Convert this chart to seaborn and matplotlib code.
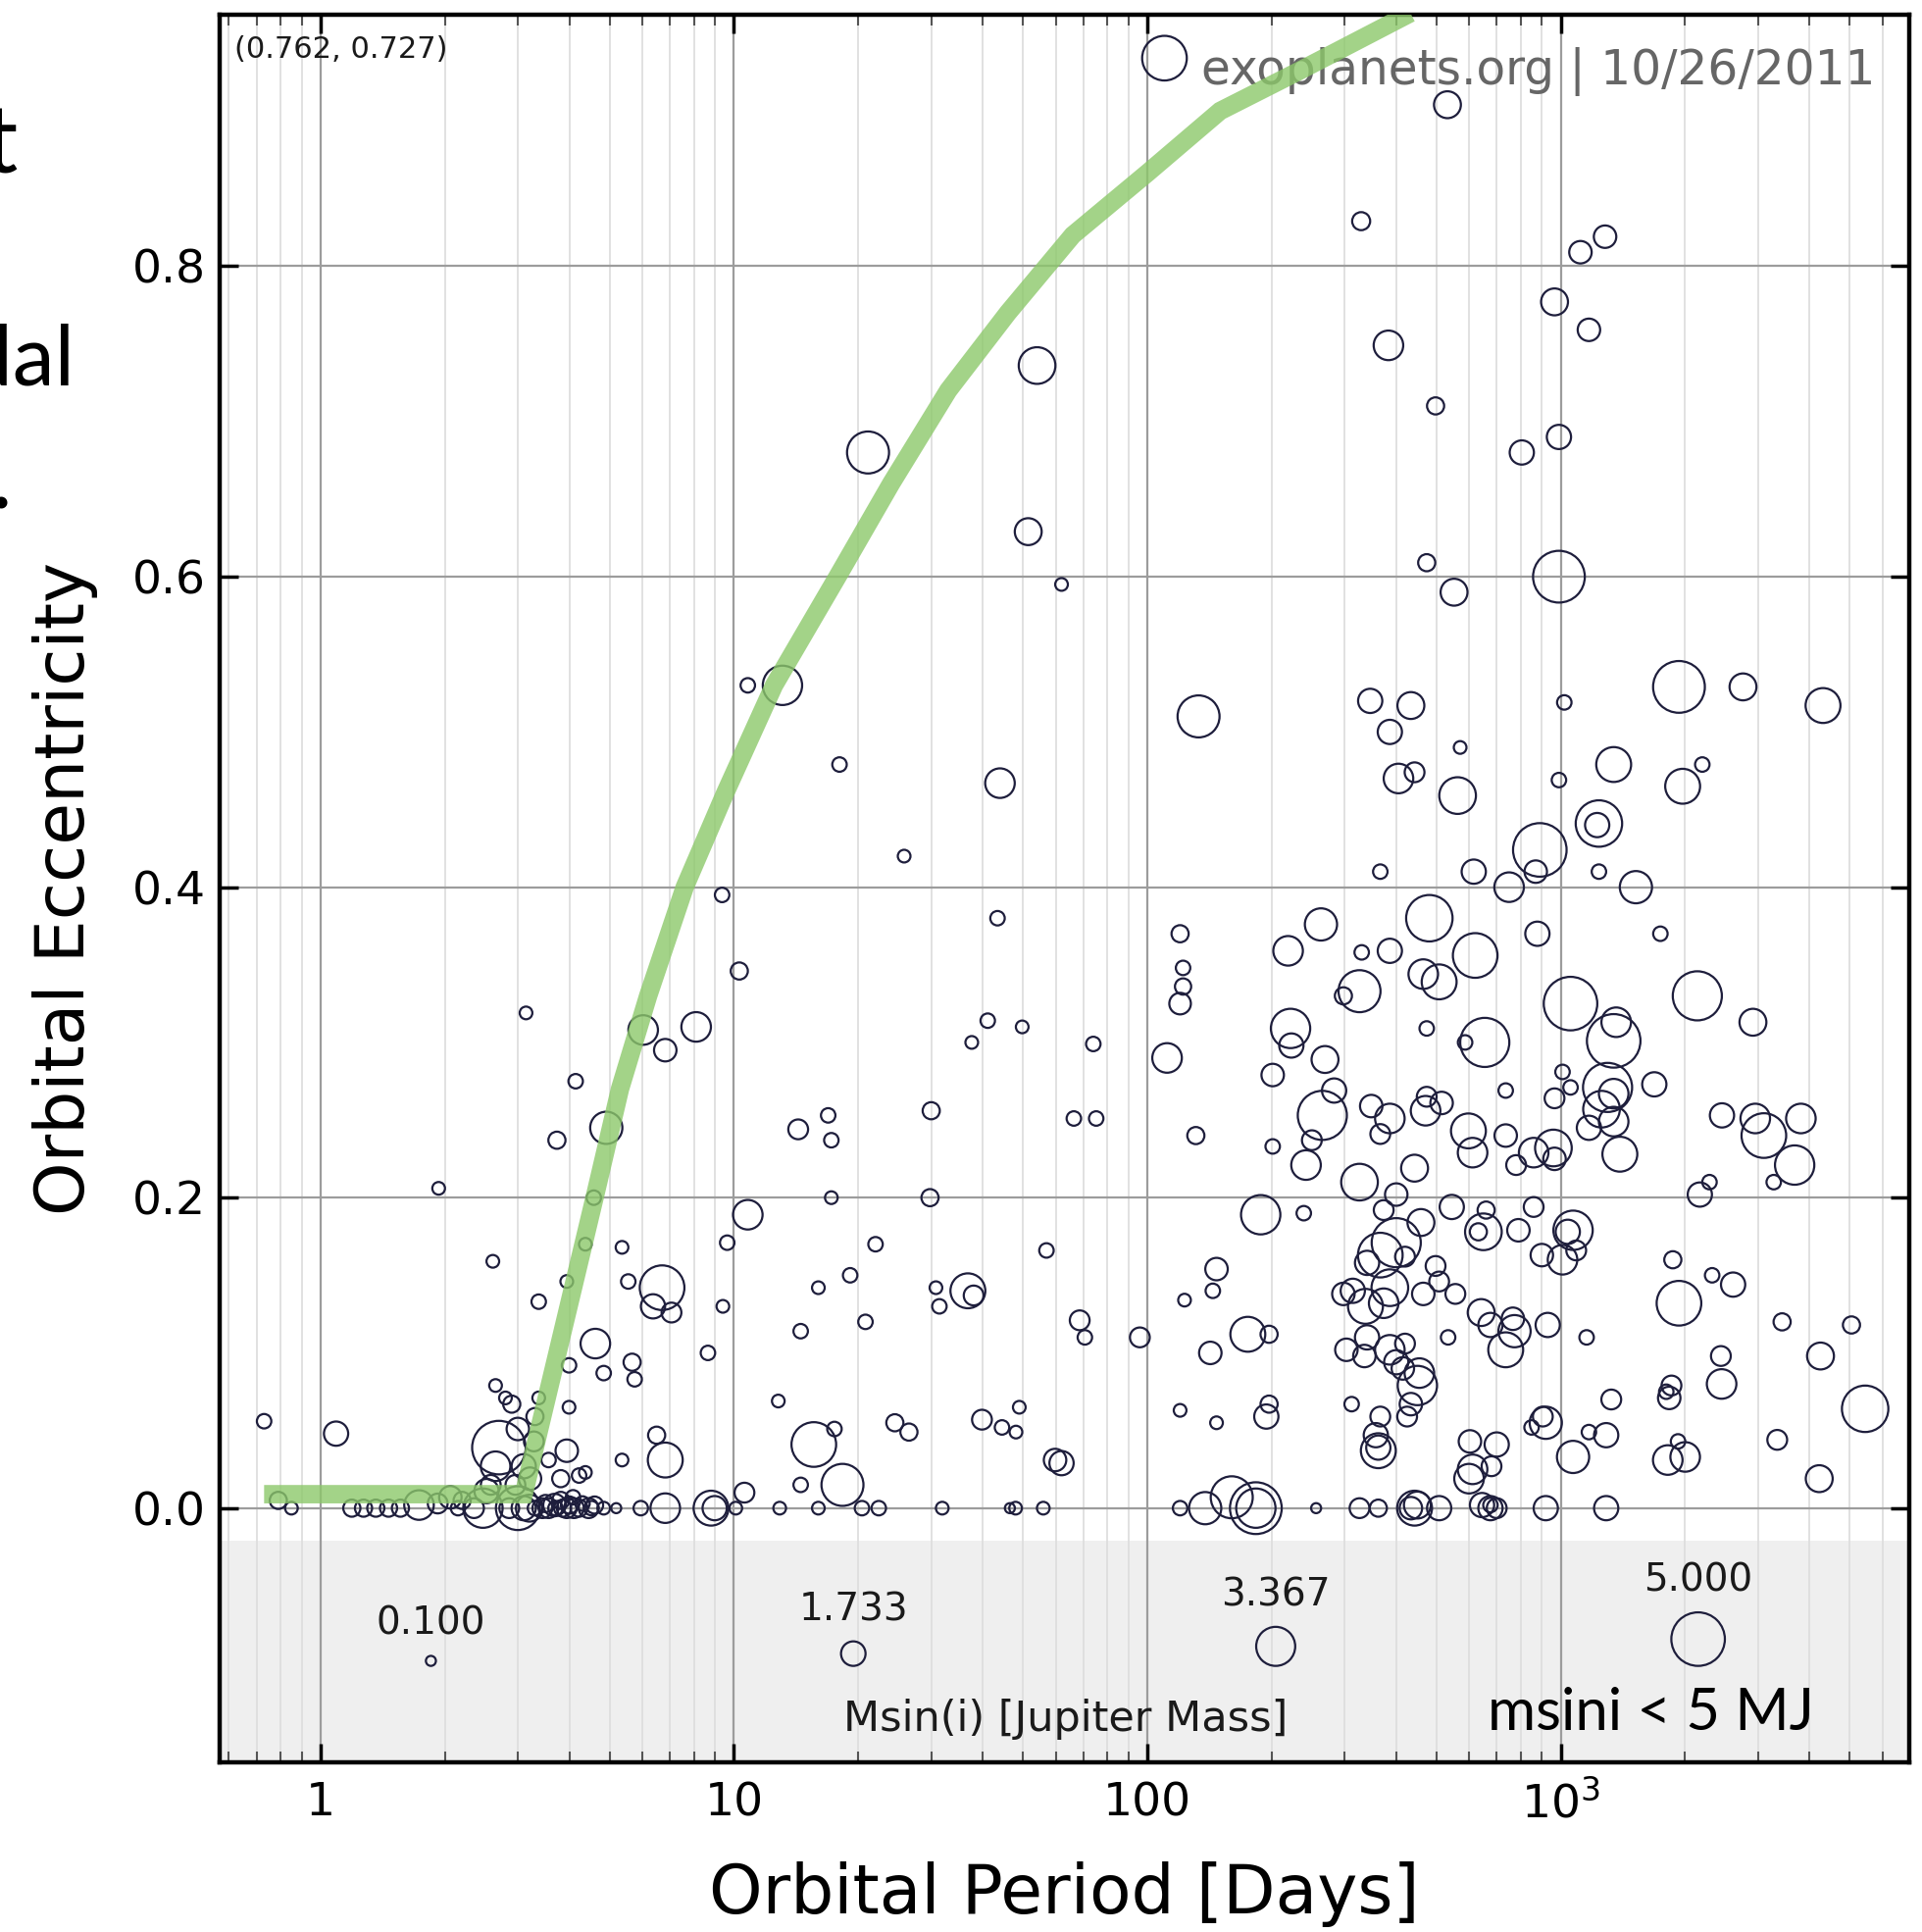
import matplotlib
matplotlib.use("Agg")
import matplotlib.pyplot as plt
from matplotlib.ticker import FixedLocator, FixedFormatter, LogLocator, NullFormatter
import seaborn as sns
import pandas as pd
import numpy as np

# orbital period [days], eccentricity, msini [M_Jup]
period = [
    # e > 0.55
    110, 532, 329, 1116, 1280, 966, 1170, 383, 54.1, 498,
    21.1, 805, 990, 51.5, 474, 62, 552, 990,
    # 0.44 - 0.55
    10.8, 13.1, 133, 346, 434, 386, 1020, 1932, 2760, 4310,
    18.0, 571, 405, 443, 563, 44, 1343, 990, 1972, 2200,
    1237, 1225,
    # 0.32 - 0.44
    25.8, 890, 750, 870, 616, 366, 1237, 1520, 9.36, 481,
    621, 263, 219, 120, 43.4, 330, 386, 465, 508, 878,
    1742, 122, 122, 120,
    # 0.22 - 0.35
    10.3, 326, 298, 1056, 2140, 2917, 3.14, 6.03, 8.10, 6.82,
    37.6, 41.1, 49.8, 74, 111.6, 222, 223, 474, 587, 655,
    1362, 1343, 269, 201, 283, 265, 348, 386, 474, 471,
    515, 736, 1010, 1056, 1298, 1255, 1343, 1684, 966, 1343,
    2455, 2955, 3100, 3810, 3680, 4.91, 3.73, 4.14, 14.3, 16.9,
    17.2, 30, 66.4, 75.2, 131, 201, 242, 250, 366, 598,
    612, 736, 860, 960, 966, 780, 1170, 1390,
    # 0.12 - 0.22
    1.93, 29.8, 10.8, 17.2, 4.58, 326, 400, 443, 188, 239,
    373, 459, 545, 632, 650, 660, 790, 860, 1071, 1040,
    900, 1010, 1090, 2170, 2290, 3275, 1867, 2324, 2612, 1932,
    400, 366, 340, 420, 498, 314, 298, 386, 373, 337,
    465, 508, 556, 147, 144, 123, 57, 36.8, 38, 22.0,
    19.1, 16.0, 9.63, 9.4, 6.7, 6.37, 7.06, 5.55, 5.36, 3.37,
    3.94, 2.61, 4.37,
    # 0.015 - 0.13
    4.62, 3.99, 4.84, 5.67, 5.75, 8.65, 14.5, 20.8, 30.8, 31.4,
    68.6, 70.6, 95.9, 142, 175, 197, 120, 147, 197, 194,
    312, 366, 425, 357, 362, 362, 303, 340, 335, 386,
    400, 415, 455, 450, 434, 420, 534, 642, 676, 766,
    773, 736, 930, 1155, 3432, 4250, 5050, 2440, 2450, 1853,
    1800, 1830, 1325, 1288, 1170, 905, 920, 850, 1071, 1815,
    1922, 2000, 3340, 4220, 5450, 603, 612, 600, 700, 680,
    # circular, long period
    676, 700, 645, 676, 508, 443, 450, 434, 362, 326,
    256, 183, 183, 160, 138, 120, 920, 1288,
    # hot jupiters
    0.73, 1.09, 0.79, 0.85, 1.19, 1.27, 1.36, 1.46, 1.56, 1.73,
    1.92, 2.06, 2.2, 2.47, 2.52, 2.70, 2.65, 2.58, 2.9, 2.8,
    2.65, 3.0, 3.1, 2.96, 3.21, 3.28, 3.3, 3.37, 3.1, 3.44,
    3.68, 3.94, 4.22, 4.52, 4.84, 2.86, 3.56, 3.81, 4.08, 3.81,
    4.22, 3.56, 3.94, 4.37, 3.99, 5.19, 5.36, 5.95, 6.82, 6.5,
    6.82, 8.8, 8.98, 10.6, 10.1, 12.8, 15.6, 17.5, 18.3, 14.5,
    12.9, 16.0, 20.4, 22.4, 24.5, 26.5, 31.9, 39.8, 44.5, 48.1,
    49.0, 46.5, 48, 56, 59.8, 62, 3.3, 3.5, 3.7, 4.0,
    4.3, 4.6, 4.1, 3.85, 4.45, 3.2, 2.35, 2.15, 3.0,
]

ecc = [
    0.934, 0.904, 0.829, 0.809, 0.819, 0.777, 0.759, 0.749, 0.736, 0.710,
    0.680, 0.680, 0.690, 0.629, 0.609, 0.595, 0.590, 0.600,
    0.530, 0.530, 0.510, 0.520, 0.517, 0.500, 0.519, 0.529, 0.529, 0.517,
    0.479, 0.490, 0.470, 0.474, 0.459, 0.467, 0.479, 0.469, 0.465, 0.479,
    0.441, 0.440,
    0.420, 0.424, 0.400, 0.410, 0.410, 0.410, 0.410, 0.400, 0.395, 0.380,
    0.356, 0.376, 0.359, 0.370, 0.380, 0.358, 0.359, 0.344, 0.339, 0.370,
    0.370, 0.348, 0.336, 0.325,
    0.346, 0.333, 0.330, 0.325, 0.330, 0.313, 0.319, 0.308, 0.310, 0.295,
    0.300, 0.314, 0.310, 0.299, 0.290, 0.309, 0.298, 0.309, 0.300, 0.300,
    0.313, 0.301, 0.289, 0.279, 0.269, 0.253, 0.259, 0.251, 0.265, 0.256,
    0.261, 0.269, 0.281, 0.271, 0.271, 0.257, 0.267, 0.273, 0.264, 0.249,
    0.253, 0.251, 0.240, 0.251, 0.221, 0.245, 0.237, 0.275, 0.244, 0.253,
    0.237, 0.256, 0.251, 0.251, 0.240, 0.233, 0.221, 0.237, 0.241, 0.243,
    0.229, 0.240, 0.229, 0.232, 0.225, 0.221, 0.245, 0.228,
    0.206, 0.200, 0.189, 0.200, 0.200, 0.210, 0.202, 0.219, 0.189, 0.190,
    0.192, 0.184, 0.194, 0.178, 0.178, 0.192, 0.179, 0.194, 0.179, 0.178,
    0.163, 0.160, 0.166, 0.202, 0.210, 0.210, 0.160, 0.150, 0.144, 0.132,
    0.171, 0.163, 0.158, 0.162, 0.156, 0.140, 0.138, 0.142, 0.132, 0.130,
    0.138, 0.146, 0.138, 0.154, 0.140, 0.134, 0.166, 0.140, 0.137, 0.170,
    0.150, 0.142, 0.171, 0.130, 0.142, 0.130, 0.126, 0.146, 0.168, 0.133,
    0.146, 0.159, 0.170,
    0.106, 0.092, 0.087, 0.094, 0.083, 0.100, 0.114, 0.120, 0.142, 0.130,
    0.121, 0.110, 0.110, 0.100, 0.112, 0.112, 0.063, 0.055, 0.067, 0.059,
    0.067, 0.059, 0.059, 0.047, 0.037, 0.039, 0.102, 0.110, 0.098, 0.102,
    0.094, 0.090, 0.087, 0.079, 0.067, 0.106, 0.110, 0.126, 0.118, 0.122,
    0.114, 0.102, 0.118, 0.110, 0.120, 0.098, 0.118, 0.098, 0.080, 0.079,
    0.075, 0.071, 0.070, 0.047, 0.049, 0.059, 0.055, 0.052, 0.033, 0.031,
    0.043, 0.033, 0.044, 0.019, 0.064, 0.043, 0.025, 0.019, 0.041, 0.027,
    0.0, 0.0, 0.002, 0.002, 0.0, 0.0, 0.002, 0.0, 0.0, 0.0,
    0.0, 0.0, 0.0, 0.007, 0.0, 0.0, 0.0, 0.0,
    0.056, 0.048, 0.005, 0.0, 0.0, 0.0, 0.0, 0.0, 0.0, 0.002,
    0.003, 0.007, 0.005, 0.0, 0.011, 0.039, 0.027, 0.015, 0.067, 0.071,
    0.079, 0.051, 0.027, 0.015, 0.019, 0.043, 0.059, 0.071, 0.0, 0.0,
    0.002, 0.0, 0.0, 0.0, 0.0, 0.0, 0.0, 0.005, 0.007, 0.019,
    0.021, 0.031, 0.037, 0.023, 0.065, 0.0, 0.031, 0.0, 0.0, 0.047,
    0.031, 0.0, 0.0, 0.010, 0.0, 0.069, 0.041, 0.051, 0.015, 0.015,
    0.0, 0.0, 0.0, 0.0, 0.055, 0.049, 0.0, 0.057, 0.052, 0.049,
    0.065, 0.0, 0.0, 0.0, 0.031, 0.029, 0.0, 0.003, 0.0, 0.002,
    0.003, 0.002, 0.0, 0.0, 0.0, 0.0, 0.0, 0.0, 0.0,
]

msini = [
    4.0, 2.0, 1.0, 1.5, 1.5, 2.0, 1.5, 2.3, 3.1, 0.9,
    3.7, 1.7, 1.7, 2.0, 0.9, 0.4, 2.0, 4.8,
    0.6, 3.4, 3.7, 1.7, 2.0, 1.7, 0.6, 4.8, 2.0, 2.9,
    0.6, 0.4, 2.3, 1.2, 3.1, 2.3, 2.9, 0.6, 2.9, 0.6,
    4.2, 1.7,
    0.4, 5.0, 2.3, 1.5, 1.7, 0.6, 0.6, 2.6, 0.6, 4.2,
    4.0, 2.6, 2.3, 0.9, 0.6, 0.6, 1.7, 2.3, 2.9, 1.7,
    0.6, 0.6, 0.8, 1.4,
    0.9, 3.7, 0.9, 5.0, 4.5, 2.0, 0.4, 2.3, 2.3, 1.5,
    0.4, 0.6, 0.4, 0.6, 2.3, 3.4, 1.7, 0.6, 0.6, 4.5,
    2.3, 5.0, 2.0, 1.5, 1.7, 4.5, 1.5, 2.3, 1.2, 2.3,
    1.5, 0.6, 0.6, 0.6, 4.5, 3.1, 2.3, 1.7, 1.2, 2.3,
    1.7, 2.3, 4.0, 2.3, 3.4, 2.6, 0.9, 0.6, 1.2, 0.6,
    0.6, 0.9, 0.6, 0.6, 0.9, 0.6, 2.3, 1.2, 1.2, 2.9,
    2.3, 1.5, 2.3, 3.1, 1.5, 1.2, 1.7, 2.9,
    0.4, 0.9, 2.3, 0.4, 0.6, 3.1, 1.5, 2.0, 3.4, 0.6,
    1.2, 2.0, 1.7, 0.9, 3.1, 0.9, 1.5, 1.2, 3.4, 1.7,
    1.5, 2.3, 1.2, 1.7, 0.6, 0.6, 0.9, 0.6, 1.7, 4.0,
    4.5, 4.0, 1.7, 1.2, 1.2, 1.7, 1.5, 3.1, 2.3, 2.9,
    1.5, 1.2, 1.2, 1.5, 0.6, 0.4, 0.6, 2.9, 1.2, 0.6,
    0.6, 0.4, 0.6, 0.4, 4.0, 1.7, 1.2, 0.6, 0.4, 0.6,
    0.4, 0.4, 0.4,
    2.3, 0.6, 0.6, 0.9, 0.6, 0.6, 0.6, 0.6, 0.4, 0.6,
    1.2, 0.6, 1.2, 1.5, 2.9, 0.9, 0.4, 0.4, 0.9, 1.7,
    0.6, 1.2, 1.2, 1.7, 2.9, 1.7, 1.5, 1.7, 1.5, 2.3,
    1.7, 1.5, 2.3, 3.4, 1.5, 1.2, 0.6, 2.0, 1.7, 1.5,
    2.6, 2.9, 1.7, 0.6, 0.9, 2.0, 0.9, 1.2, 2.3, 1.2,
    0.6, 1.5, 1.2, 1.7, 0.6, 1.2, 2.6, 0.6, 2.6, 2.3,
    0.6, 2.3, 1.2, 2.0, 4.2, 1.5, 2.3, 2.3, 1.7, 1.2,
    1.7, 1.2, 1.7, 0.6, 1.7, 2.9, 2.0, 1.5, 0.9, 1.2,
    0.1, 4.8, 3.4, 3.7, 2.6, 0.6, 1.7, 1.7,
    0.6, 1.7, 0.9, 0.4, 0.9, 0.9, 0.9, 0.9, 0.9, 2.3,
    1.2, 1.5, 0.9, 3.4, 1.7, 5.0, 2.3, 1.2, 0.9, 0.4,
    0.4, 1.5, 1.7, 1.2, 1.5, 1.2, 0.9, 0.4, 1.7, 1.2,
    1.5, 1.2, 0.9, 0.6, 0.4, 1.2, 1.2, 0.9, 0.6, 0.9,
    0.6, 0.6, 1.5, 0.4, 0.4, 0.1, 0.4, 0.6, 2.3, 0.9,
    2.9, 2.9, 1.7, 1.2, 0.4, 0.4, 4.0, 0.6, 3.7, 0.6,
    0.4, 0.4, 0.6, 0.6, 0.9, 0.9, 0.4, 1.2, 0.6, 0.4,
    0.4, 0.1, 0.4, 0.4, 1.5, 1.7, 0.6, 0.9, 0.6, 0.9,
    0.6, 0.9, 1.2, 0.9, 1.2, 2.0, 1.2, 0.6, 3.9,
]

# tidal circularization envelope (green band)
curve_period = [0.73, 3.1, 4.6, 5.3, 6.2, 7.6, 9.5, 12.5, 17.8, 24, 33, 46, 66, 100, 150, 230, 433]
curve_ecc = [0.009, 0.009, 0.200, 0.270, 0.330, 0.400, 0.460, 0.530, 0.600, 0.660,
             0.720, 0.770, 0.820, 0.860, 0.900, 0.925, 0.963]

legend_mass = [0.1, 1.733, 3.367, 5.0]
legend_x = [0.125, 0.375, 0.625, 0.875]

x_ticks = [1, 10, 100, 1000]
x_ticklabels = ["1", "10", "100", "$10^3$"]
y_ticks = [0.0, 0.2, 0.4, 0.6, 0.8]

EDGE = "#1e1e3c"


def circle_area(m):
    # marker radius (pt) grows linearly with msini
    r = 3.35 + 3.26 * np.asarray(m, dtype=float)
    return (2 * r) ** 2


sns.set_style("white")
plt.rcParams["font.family"] = ["DejaVu Sans"]
plt.rcParams["text.color"] = "black"
plt.rcParams["axes.labelcolor"] = "black"
plt.rcParams["xtick.color"] = "black"
plt.rcParams["ytick.color"] = "black"

fig = plt.figure(figsize=(19.6, 19.7), dpi=100)
ax = fig.add_axes([0.1143, 0.0880, 0.8791, 0.9044])
ax.set_xscale("log")

df = pd.DataFrame({"period": period, "ecc": ecc, "msini": msini})
df["area"] = circle_area(df["msini"])
a_lo, a_hi = float(circle_area(0.1)), float(circle_area(5.0))

ylo, yhi = -0.1635, 0.962
ax.axhspan(ylo, -0.021, color="#efefef", lw=0, zorder=0.2)

sns.scatterplot(data=df, x="period", y="ecc", size="area", sizes=(a_lo, a_hi),
                size_norm=(a_lo, a_hi), facecolor="none", edgecolor=EDGE,
                linewidth=1.6, legend=False, ax=ax, zorder=3)

sns.lineplot(x=curve_period, y=curve_ecc, sort=False, estimator=None,
             color="#8cc86a", alpha=0.8, lw=13.5, solid_capstyle="butt",
             solid_joinstyle="miter", ax=ax, zorder=4)

ax.set_xlim(0.57, 6970)
ax.set_ylim(ylo, yhi)

ax.xaxis.set_major_locator(FixedLocator(x_ticks))
ax.xaxis.set_major_formatter(FixedFormatter(x_ticklabels))
ax.xaxis.set_minor_locator(LogLocator(base=10, subs=np.arange(2, 10), numticks=30))
ax.xaxis.set_minor_formatter(NullFormatter())
ax.set_yticks(y_ticks)
ax.set_yticklabels([f"{v:.1f}" for v in y_ticks])

ax.tick_params(which="major", direction="in", length=14, width=2.5, colors="black",
               top=True, right=True, bottom=True, left=True, labelsize=34)
ax.tick_params(axis="x", which="major", pad=14)
ax.tick_params(axis="y", which="major", pad=10)
ax.tick_params(axis="x", which="minor", direction="in", length=8, width=1.5,
               top=True, bottom=True, color="#555555")

ax.set_axisbelow(True)
ax.grid(True, which="major", color="#9c9c9c", lw=1.6)
ax.grid(True, which="minor", axis="x", color="#dedede", lw=1.3)
for s in ax.spines.values():
    s.set_color("black")
    s.set_linewidth(3.2)

ax.set_xlabel("Orbital Period [Days]", fontsize=50, color="black")
ax.set_ylabel("Orbital Eccentricity", fontsize=50, color="black")
ax.xaxis.set_label_coords(0.5, -0.057)
ax.yaxis.set_label_coords(-0.072, 0.5)

# bubble-size key in the grey band
ax_h_px = 0.9044 * 1970
for xf, m in zip(legend_x, legend_mass):
    r_frac = (3.35 + 3.26 * m) / 72 * 100 / ax_h_px
    yc = 0.055 + r_frac
    ax.scatter([xf], [yc], s=circle_area(m), transform=ax.transAxes, facecolor="none",
               edgecolor=EDGE, lw=1.6, zorder=5, clip_on=False)
    ax.annotate(f"{m:.3f}", xy=(xf, yc + r_frac), xycoords="axes fraction",
                xytext=(0, 23.5), textcoords="offset points", ha="center", va="center",
                fontsize=28, color="#1a1a1a")

ax.text(0.5007, 0.0247, "Msin(i) [Jupiter Mass]", transform=ax.transAxes,
        ha="center", va="center", fontsize=31, color="#1a1a1a")
ax.text(0.847, 0.028, "msini < 5 MJ", transform=ax.transAxes, ha="center", va="center",
        fontsize=43, family=["Lato", "DejaVu Sans"], color="black")
ax.text(0.0087, 0.980, "(0.762, 0.727)", transform=ax.transAxes, ha="left", va="center",
        fontsize=22, color="#1a1a1a")
ax.text(0.98, 0.9676, "exoplanets.org | 10/26/2011", transform=ax.transAxes, ha="right",
        va="center", fontsize=35, color="#666666", zorder=2)

# slide text clipped at the left edge, as in the reference
fig.text(0.0097, 0.9107, "that", fontsize=70, family=["Lato", "DejaVu Sans"], ha="right", va="baseline")
fig.text(0.039, 0.801, "tidal", fontsize=62, family=["Lato", "DejaVu Sans"], ha="right", va="baseline")
fig.text(0.0064, 0.737, ".", fontsize=70, family=["Lato", "DejaVu Sans"], ha="right", va="baseline")

fig.savefig("out.png", dpi=100, facecolor="white")
